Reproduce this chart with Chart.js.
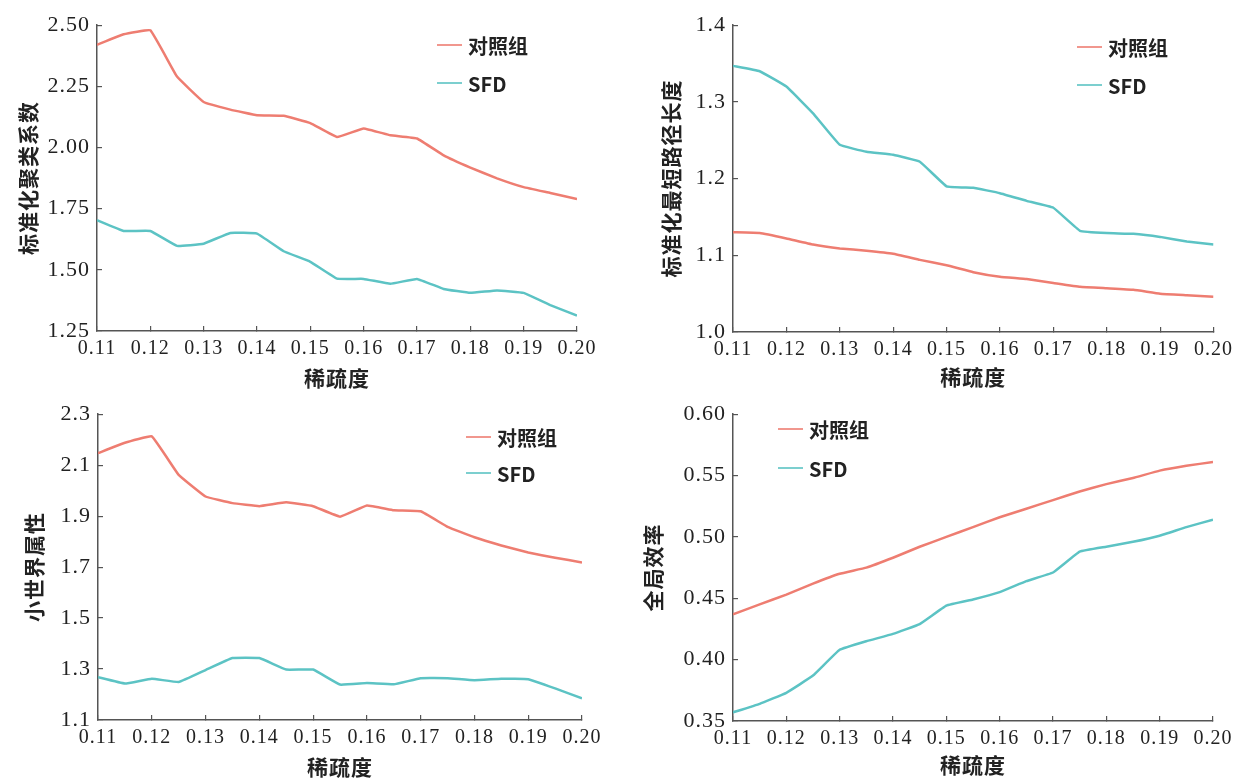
<!DOCTYPE html>
<html>
<head>
<meta charset="utf-8">
<script src="https://cdn.jsdelivr.net/npm/chart.js@4.4.1/dist/chart.umd.min.js"></script>
<style>
  html, body { margin: 0; padding: 0; background: #fff; overflow: hidden; width: 1235px; height: 778px; }
  canvas { position: absolute; }
</style>
</head>
<body>
<canvas id="chart-cc" width="617" height="392" style="left:0;top:0"></canvas>
<canvas id="chart-lp" width="625" height="392" style="left:617px;top:0"></canvas>
<canvas id="chart-sw" width="617" height="389" style="left:0;top:389px"></canvas>
<canvas id="chart-ge" width="625" height="389" style="left:617px;top:389px"></canvas>
<script>
// sparsity thresholds (x)
const sparsity = [0.11, 0.115, 0.12, 0.125, 0.13, 0.135, 0.14, 0.145, 0.15, 0.155,
                  0.16, 0.165, 0.17, 0.175, 0.18, 0.185, 0.19, 0.195, 0.20];
const xTicks = [0.11, 0.12, 0.13, 0.14, 0.15, 0.16, 0.17, 0.18, 0.19, 0.20];
const seriesNames = ['对照组', 'SFD'];
const xTitle = '稀疏度';

// normalized clustering coefficient
const ccControl = [2.42, 2.463, 2.479, 2.29, 2.186, 2.155, 2.132, 2.13, 2.10, 2.043,
                   2.078, 2.05, 2.037, 1.968, 1.918, 1.874, 1.838, 1.814, 1.789];
const ccSFD = [1.703, 1.659, 1.659, 1.598, 1.607, 1.651, 1.648, 1.576, 1.533, 1.464,
               1.463, 1.443, 1.463, 1.422, 1.406, 1.416, 1.406, 1.356, 1.313];
const ccTicks = [1.25, 1.50, 1.75, 2.00, 2.25, 2.50];

// normalized shortest path length
const lpControl = [1.130, 1.129, 1.122, 1.114, 1.109, 1.106, 1.102, 1.094, 1.087, 1.078,
                   1.072, 1.069, 1.064, 1.059, 1.057, 1.055, 1.050, 1.048, 1.046];
const lpSFD = [1.347, 1.340, 1.320, 1.285, 1.244, 1.235, 1.231, 1.222, 1.190, 1.188,
               1.181, 1.171, 1.162, 1.132, 1.129, 1.128, 1.124, 1.118, 1.114];
const lpTicks = [1.0, 1.1, 1.2, 1.3, 1.4];

// small-world property
const swControl = [2.147, 2.188, 2.213, 2.062, 1.977, 1.951, 1.939, 1.954, 1.939, 1.898,
                   1.942, 1.923, 1.919, 1.858, 1.817, 1.785, 1.757, 1.737, 1.718];
const swSFD = [1.268, 1.243, 1.262, 1.249, 1.296, 1.343, 1.343, 1.298, 1.298, 1.239,
               1.245, 1.240, 1.264, 1.264, 1.256, 1.262, 1.260, 1.224, 1.185];
const swTicks = [1.1, 1.3, 1.5, 1.7, 1.9, 2.1, 2.3];

// global efficiency
const geControl = [0.437, 0.445, 0.453, 0.462, 0.470, 0.475, 0.483, 0.492, 0.500, 0.508,
                   0.516, 0.523, 0.530, 0.537, 0.543, 0.548, 0.554, 0.558, 0.561];
const geSFD = [0.357, 0.364, 0.373, 0.387, 0.408, 0.415, 0.421, 0.429, 0.444, 0.449,
               0.455, 0.464, 0.471, 0.488, 0.492, 0.496, 0.501, 0.508, 0.514];
const geTicks = [0.35, 0.40, 0.45, 0.50, 0.55, 0.60];

const RED = '#ee7d71';
const TEAL = '#5cc3c4';
const AXIS = '#555555';
const TEXT = '#222222';

Chart.defaults.animation = false;
Chart.defaults.devicePixelRatio = 1;

// wider letter spacing for the axis text, like the printed figure
const spacedText = {
  id: 'spacedText',
  beforeDraw(chart) { chart.ctx.letterSpacing = '1px'; },
  beforeDatasetsDraw(chart) { chart.ctx.letterSpacing = '0px'; }
};

// small legend drawn inside the plot, at a fixed spot
const cornerLegend = {
  id: 'cornerLegend',
  afterDraw(chart, args, opts) {
    const ctx = chart.ctx;
    ctx.save();
    chart.data.datasets.forEach((ds, i) => {
      const y = opts.y + i * opts.gap;
      ctx.strokeStyle = ds.borderColor;
      ctx.lineWidth = 1.6;
      ctx.beginPath();
      ctx.moveTo(opts.x, y);
      ctx.lineTo(opts.x + 25, y);
      ctx.stroke();
      ctx.fillStyle = TEXT;
      ctx.textBaseline = 'middle';
      ctx.font = 'bold 20px "Liberation Sans Narrow", "Noto Sans CJK SC", sans-serif';
      ctx.fillText(ds.label, opts.x + 31, y + 1);
    });
    ctx.restore();
  }
};

function makePanel(id, p) {
  const ctx = document.getElementById(id);
  const pts = (arr) => arr.map((v, i) => ({ x: sparsity[i], y: v }));
  return new Chart(ctx, {
    type: 'line',
    data: {
      datasets: [
        { label: seriesNames[0], data: pts(p.control), borderColor: RED, borderWidth: 2.5,
          pointRadius: 0, tension: 0.08, fill: false },
        { label: seriesNames[1], data: pts(p.sfd), borderColor: TEAL, borderWidth: 2.5,
          pointRadius: 0, tension: 0.08, fill: false }
      ]
    },
    options: {
      responsive: false,
      layout: { padding: { left: 0, top: p.top, right: p.right, bottom: 0 } },
      plugins: {
        legend: { display: false },
        tooltip: { enabled: false },
        cornerLegend: p.legend
      },
      scales: {
        x: {
          type: 'linear',
          min: 0.11,
          max: 0.20,
          afterBuildTicks: (axis) => { axis.ticks = xTicks.map(v => ({ value: v })); },
          afterFit: (axis) => { axis.height = p.bottom; },
          border: { display: true, color: AXIS, width: 1.5 },
          grid: { display: true, drawOnChartArea: false, drawTicks: true, tickLength: -5, color: AXIS, lineWidth: 1.2 },
          ticks: {
            padding: 11,
            color: TEXT,
            maxRotation: 0,
            autoSkip: false,
            font: { family: '"Liberation Serif", serif', size: 20 },
            callback: (v) => Number(v).toFixed(2)
          },
          title: {
            display: true,
            text: xTitle,
            color: TEXT,
            padding: { top: 0, bottom: p.xTitlePad },
            font: { family: '"Noto Sans CJK SC", sans-serif', size: 21, weight: 'bold', lineHeight: 1 }
          }
        },
        y: {
          type: 'linear',
          min: p.ticks[0],
          max: p.ticks[p.ticks.length - 1],
          afterBuildTicks: (axis) => { axis.ticks = p.ticks.map(v => ({ value: v })); },
          afterFit: (axis) => { axis.width = p.left; },
          border: { display: true, color: AXIS, width: 1.5 },
          grid: { display: true, drawOnChartArea: false, drawTicks: true, tickLength: -5, color: AXIS, lineWidth: 1.2 },
          ticks: {
            padding: 12,
            color: TEXT,
            autoSkip: false,
            font: { family: '"Liberation Serif", serif', size: 22 },
            callback: (v) => Number(v).toFixed(p.decimals)
          },
          title: {
            display: true,
            text: p.yTitle,
            color: TEXT,
            padding: { top: p.yTitlePad, bottom: 0 },
            font: { family: '"Noto Sans CJK SC", sans-serif', size: 21, weight: 'bold', lineHeight: 1 }
          }
        }
      }
    },
    plugins: [spacedText, cornerLegend]
  });
}

makePanel('chart-cc', {
  control: ccControl, sfd: ccSFD, ticks: ccTicks, decimals: 2, yTitle: '标准化聚类系数',
  left: 97, top: 22, right: 40, bottom: 61, xTitlePad: 3.5, yTitlePad: 17.5,
  legend: { x: 437, y: 45, gap: 38 }
});
makePanel('chart-lp', {
  control: lpControl, sfd: lpSFD, ticks: lpTicks, decimals: 1, yTitle: '标准化最短路径长度',
  left: 116, top: 20, right: 23, bottom: 60, xTitlePad: 4.5, yTitlePad: 43.5,
  legend: { x: 460, y: 47, gap: 38 }
});
makePanel('chart-sw', {
  control: swControl, sfd: swSFD, ticks: swTicks, decimals: 1, yTitle: '小世界属性',
  left: 98, top: 18, right: 35, bottom: 58, xTitlePad: 0.5, yTitlePad: 23.5,
  legend: { x: 466, y: 48, gap: 36 }
});
makePanel('chart-ge', {
  control: geControl, sfd: geSFD, ticks: geTicks, decimals: 2, yTitle: '全局效率',
  left: 116, top: 20, right: 29, bottom: 57, xTitlePad: 2.5, yTitlePad: 25.5,
  legend: { x: 161, y: 40, gap: 39 }
});
</script>
</body>
</html>
